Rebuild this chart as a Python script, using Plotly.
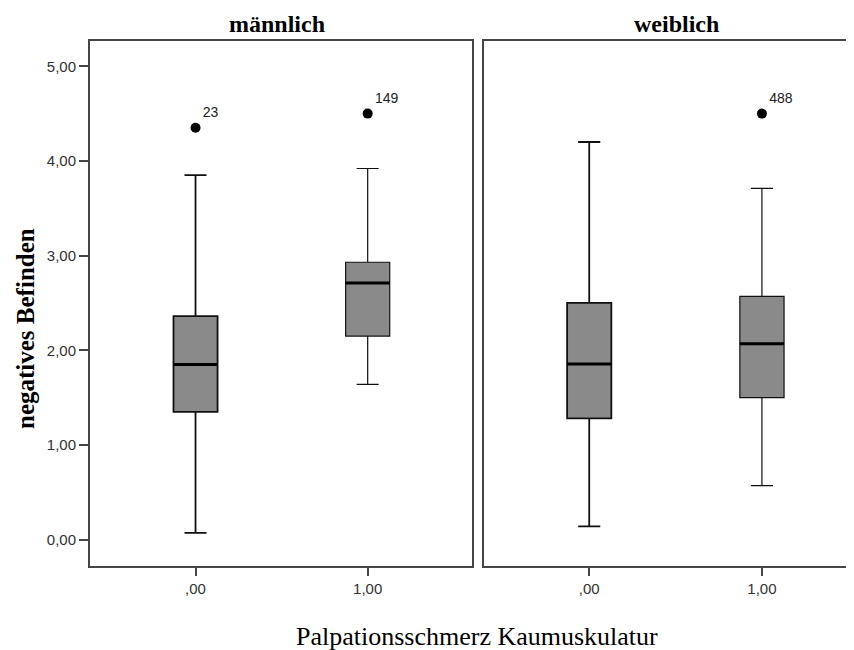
import plotly.graph_objects as go

# ---- data ----
groups = ["männlich", "weiblich"]
categories = [0, 1]
cat_labels = [",00", "1,00"]

q1 = {"männlich": [1.35, 2.15], "weiblich": [1.28, 1.50]}
median = {"männlich": [1.85, 2.71], "weiblich": [1.855, 2.07]}
q3 = {"männlich": [2.36, 2.93], "weiblich": [2.50, 2.57]}
lower = {"männlich": [0.07, 1.64], "weiblich": [0.14, 0.57]}
upper = {"männlich": [3.85, 3.92], "weiblich": [4.20, 3.71]}

outlier_group = ["männlich", "männlich", "weiblich"]
outlier_cat = [0, 1, 1]
outlier_val = [4.35, 4.50, 4.50]
outlier_id = ["23", "149", "488"]

y_ticks = [0, 1, 2, 3, 4, 5]
y_tick_labels = ["0,00", "1,00", "2,00", "3,00", "4,00", "5,00"]

# ---- style ----
BOX_W = 0.256
FILL = "#8a8a8a"
FRAME = "#454545"
TICKFONT = dict(family="Liberation Sans, Arial", size=15, color="#333333")
SERIF = "Liberation Serif, Times New Roman"

fig = go.Figure()
axis_for = {"männlich": ("x", "y"), "weiblich": ("x2", "y2")}

for g in groups:
    xa, ya = axis_for[g]
    for i, c in enumerate(categories):
        lw = 1.8 if c == 0 else 1.2
        fig.add_trace(go.Box(
            x=[c], q1=[q1[g][i]], median=[median[g][i]], q3=[q3[g][i]],
            lowerfence=[lower[g][i]], upperfence=[upper[g][i]],
            width=BOX_W, whiskerwidth=0.5, fillcolor=FILL,
            line=dict(color="#111111", width=lw),
            boxpoints=False, showlegend=False, hoverinfo="skip",
            xaxis=xa, yaxis=ya,
        ))
        # thick median line
        fig.add_trace(go.Scatter(
            x=[c - BOX_W / 2, c + BOX_W / 2], y=[median[g][i]] * 2,
            mode="lines", line=dict(color="black", width=3),
            showlegend=False, hoverinfo="skip", xaxis=xa, yaxis=ya,
        ))

for g in groups:
    xa, ya = axis_for[g]
    xs = [c for gg, c in zip(outlier_group, outlier_cat) if gg == g]
    ys = [v for gg, v in zip(outlier_group, outlier_val) if gg == g]
    ts = [t for gg, t in zip(outlier_group, outlier_id) if gg == g]
    fig.add_trace(go.Scatter(
        x=xs, y=ys, text=ts, mode="markers+text", textposition="top right",
        marker=dict(color="black", size=10),
        textfont=dict(family="Liberation Sans, Arial", size=14, color="#222222"),
        showlegend=False, hoverinfo="skip", xaxis=xa, yaxis=ya,
    ))

# page body has an 8px margin: figure origin sits at (8, 8) of the window
OFF = 8
W, H = 854 - OFF, 650 - OFF
ML, MR, MT, MB = 90 - OFF, 0, 41 - OFF, 650 - 566
pw = W - ML - MR
ph = H - MT - MB

def px_x(p):
    return (p - OFF - ML) / pw

def px_y(p):
    return (H - MB - (p - OFF)) / ph

xcommon = dict(
    tickvals=categories, ticktext=cat_labels, ticks="outside", ticklen=8,
    tickwidth=1.5, tickcolor=FRAME, showline=True, linecolor=FRAME, linewidth=2,
    showgrid=False, zeroline=False, tickfont=TICKFONT, mirror=True,
    ticklabelstandoff=0,
)
ycommon = dict(range=[-0.279, 5.267], showgrid=False, zeroline=False,
               showline=True, linecolor=FRAME, linewidth=2)

fig.update_layout(
    width=W, height=H, margin=dict(l=ML, r=MR, t=MT, b=MB),
    paper_bgcolor="white", plot_bgcolor="white", boxmode="overlay",
    xaxis=dict(domain=[0, px_x(472)], range=[-0.613, 1.606], anchor="y", **xcommon),
    xaxis2=dict(domain=[px_x(483.7), 1], range=[-0.611, 1.533], anchor="y2", **xcommon),
    yaxis=dict(anchor="x", tickvals=y_ticks, ticktext=y_tick_labels, ticks="outside",
               ticklen=9, tickwidth=1.5, tickcolor=FRAME, tickfont=TICKFONT,
               mirror=True, **ycommon),
    yaxis2=dict(anchor="x2", matches="y", showticklabels=False, ticks="",
                mirror=False, **ycommon),
    annotations=[
        dict(text="<b>männlich</b>", xref="paper", yref="paper", x=px_x(277), y=px_y(24),
             xanchor="center", yanchor="middle", showarrow=False,
             font=dict(family=SERIF, size=24, color="black")),
        dict(text="<b>weiblich</b>", xref="paper", yref="paper", x=px_x(676.5), y=px_y(24),
             xanchor="center", yanchor="middle", showarrow=False,
             font=dict(family=SERIF, size=24, color="black")),
        dict(text="<b>negatives Befinden</b>", xref="paper", yref="paper", x=px_x(25), y=px_y(329),
             xanchor="center", yanchor="middle", showarrow=False, textangle=-90,
             font=dict(family=SERIF, size=25, color="black")),
        dict(text="Palpationsschmerz Kaumuskulatur", xref="paper", yref="paper",
             x=px_x(477), y=px_y(636), xanchor="center", yanchor="middle", showarrow=False,
             font=dict(family=SERIF, size=26, color="black")),
    ],
)

fig.write_html("out.html")
